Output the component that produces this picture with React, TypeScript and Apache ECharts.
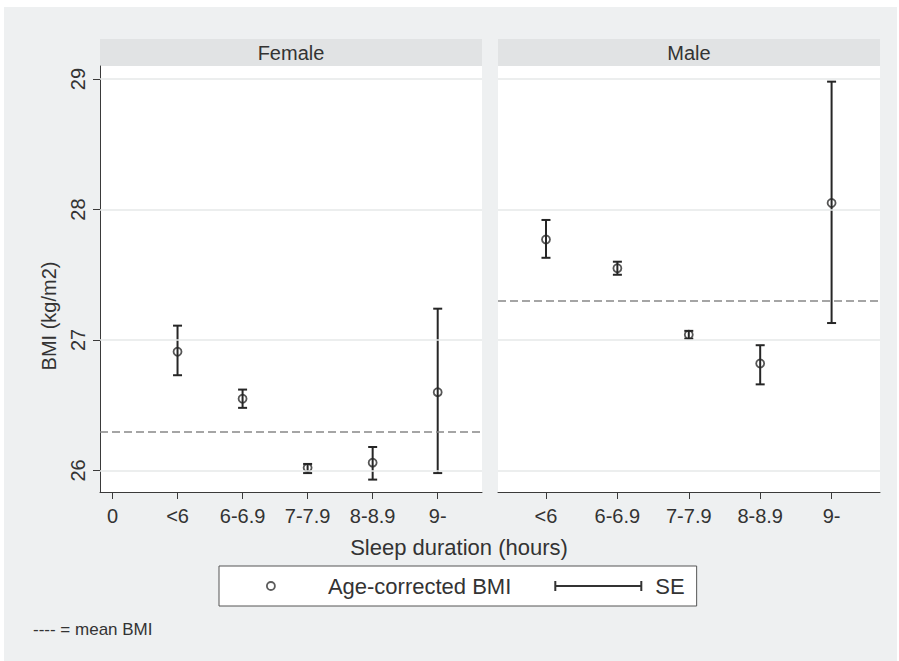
import React, { useEffect, useRef } from "react";
import * as echarts from "echarts";

// ---- data ----
const panels = ["Female", "Male"];
const femaleTickValues = [0, 1, 2, 3, 4, 5];
const femaleTickLabels = ["0", "<6", "6-6.9", "7-7.9", "8-8.9", "9-"];
const maleTickValues = [1, 2, 3, 4, 5];
const maleTickLabels = ["<6", "6-6.9", "7-7.9", "8-8.9", "9-"];
const femaleX = [1, 2, 3, 4, 5];
const maleX = [1, 2, 3, 4, 5];
const femaleBMI = [26.91, 26.55, 26.02, 26.06, 26.6];
const femaleSELow = [26.73, 26.48, 25.98, 25.93, 25.98];
const femaleSEHigh = [27.11, 26.62, 26.05, 26.18, 27.24];
const maleBMI = [27.77, 27.55, 27.04, 26.82, 28.05];
const maleSELow = [27.63, 27.5, 27.01, 26.66, 27.13];
const maleSEHigh = [27.92, 27.6, 27.07, 26.96, 28.98];
const meanBMI = [26.3, 27.3];
const yTicks = [26, 27, 28, 29];

const FONT = "'Liberation Sans', Arial, Helvetica, sans-serif";
const TEXT = "#333";
const AXIS = "#3a3a3a";

const circleIcon =
  "path://M0 0 M86 14 M47 7 A4 4 0 1 1 39 7 A4 4 0 1 1 47 7 Z";
const seIcon = "path://M0 5 L86 5 M0 0 L0 10 M86 0 L86 10";

function renderErrorBar(params: any, api: any) {
  const x = api.value(0);
  const lo = api.coord([x, api.value(1)]);
  const hi = api.coord([x, api.value(2)]);
  const hw = 4.5;
  const style = { stroke: "#262626", lineWidth: 2, fill: null };
  return {
    type: "group",
    children: [
      { type: "line", shape: { x1: lo[0], y1: lo[1], x2: hi[0], y2: hi[1] }, style },
      { type: "line", shape: { x1: lo[0] - hw, y1: lo[1], x2: lo[0] + hw, y2: lo[1] }, style },
      { type: "line", shape: { x1: hi[0] - hw, y1: hi[1], x2: hi[0] + hw, y2: hi[1] }, style },
    ],
  };
}

function refLines(mean: number) {
  return {
    silent: true,
    symbol: ["none", "none"],
    label: { show: false },
    emphasis: { disabled: true },
    data: [
      ...yTicks.map((v) => ({ yAxis: v, lineStyle: { color: "#e6e8e9", width: 1.5, type: "solid" } })),
      { yAxis: mean, lineStyle: { color: "#888", width: 1.5, type: [8, 4] } },
    ],
  };
}

export default function App() {
  const ref = useRef<HTMLDivElement>(null);
  useEffect(() => {
    if (!ref.current) return;
    const chart = echarts.init(ref.current, null, { renderer: "svg" });
    const yMin = 25.835;
    const yMax = 29.1;
    const gridCommon = { top: 66, width: 382, height: 426, show: true, backgroundColor: "#fff", borderWidth: 0 };
    const xAxisCommon = {
      type: "value",
      axisLine: { show: true, onZero: false, lineStyle: { color: AXIS, width: 1 } },
      axisTick: { show: true, length: 7, lineStyle: { color: AXIS, width: 1 } },
      splitLine: { show: false },
    };
    const pointStyle = { color: "rgba(0,0,0,0)", borderColor: "#2b2b2b", borderWidth: 1.8 };
    chart.setOption({
      animation: false,
      backgroundColor: "#eef0f1",
      textStyle: { fontFamily: FONT },
      grid: [
        { ...gridCommon, left: 100 },
        { ...gridCommon, left: 498 },
      ],
      xAxis: [
        {
          ...xAxisCommon,
          gridIndex: 0,
          min: -0.192,
          max: 5.681,
          axisTick: { ...xAxisCommon.axisTick, customValues: femaleTickValues },
          axisLabel: {
            customValues: femaleTickValues,
            formatter: (v: number) => femaleTickLabels[femaleTickValues.indexOf(Math.round(v))] ?? "",
            fontSize: 20,
            color: TEXT,
            margin: 14,
          },
        },
        {
          ...xAxisCommon,
          gridIndex: 1,
          min: 0.328,
          max: 5.678,
          axisTick: { ...xAxisCommon.axisTick, customValues: maleTickValues },
          axisLabel: {
            customValues: maleTickValues,
            formatter: (v: number) => maleTickLabels[maleTickValues.indexOf(Math.round(v))] ?? "",
            fontSize: 20,
            color: TEXT,
            margin: 14,
          },
        },
      ],
      yAxis: [
        {
          type: "value",
          gridIndex: 0,
          min: yMin,
          max: yMax,
          axisLine: { show: true, onZero: false, lineStyle: { color: AXIS, width: 1 } },
          axisTick: { show: true, length: 7, customValues: yTicks, lineStyle: { color: AXIS, width: 1 } },
          axisLabel: { customValues: yTicks, rotate: 90, fontSize: 20, color: TEXT, margin: 12 },
          splitLine: { show: false },
        },
        {
          type: "value",
          gridIndex: 1,
          min: yMin,
          max: yMax,
          axisLine: { show: false },
          axisTick: { show: false },
          axisLabel: { show: false },
          splitLine: { show: false },
        },
      ],
      legend: {
        left: 219,
        top: 566,
        orient: "horizontal",
        selectedMode: false,
        backgroundColor: "#fff",
        borderColor: "#555",
        borderWidth: 1,
        borderRadius: 0,
        padding: [9, 12, 9, 8],
        itemWidth: 86,
        itemHeight: 14,
        itemGap: 43,
        textStyle: { fontSize: 22, color: TEXT, fontFamily: FONT, padding: [0, 0, 0, 9] },
        data: [
          {
            name: "Age-corrected BMI",
            icon: circleIcon,
            itemStyle: { color: "rgba(0,0,0,0)", borderColor: "#333", borderWidth: 1.8 },
          },
          {
            name: "SE",
            icon: seIcon,
            itemStyle: { color: "rgba(0,0,0,0)", borderColor: "#333", borderWidth: 2 },
          },
        ],
      },
      series: [
        {
          name: "Age-corrected BMI",
          type: "scatter",
          xAxisIndex: 0,
          yAxisIndex: 0,
          symbol: "circle",
          symbolSize: 8,
          itemStyle: pointStyle,
          data: femaleX.map((x, i) => [x, femaleBMI[i]]),
          markLine: refLines(meanBMI[0]),
          z: 3,
        },
        {
          name: "SE",
          type: "custom",
          xAxisIndex: 0,
          yAxisIndex: 0,
          renderItem: renderErrorBar,
          encode: { x: 0, y: [1, 2] },
          data: femaleX.map((x, i) => [x, femaleSELow[i], femaleSEHigh[i]]),
          z: 4,
        },
        {
          name: "Age-corrected BMI",
          type: "scatter",
          xAxisIndex: 1,
          yAxisIndex: 1,
          symbol: "circle",
          symbolSize: 8,
          itemStyle: pointStyle,
          data: maleX.map((x, i) => [x, maleBMI[i]]),
          markLine: refLines(meanBMI[1]),
          z: 3,
        },
        {
          name: "SE",
          type: "custom",
          xAxisIndex: 1,
          yAxisIndex: 1,
          renderItem: renderErrorBar,
          encode: { x: 0, y: [1, 2] },
          data: maleX.map((x, i) => [x, maleSELow[i], maleSEHigh[i]]),
          z: 4,
        },
      ],
      graphic: {
        elements: [
          { type: "rect", shape: { x: 0, y: 0, width: 899, height: 7 }, style: { fill: "#fff" }, silent: true },
          { type: "rect", shape: { x: 0, y: 0, width: 4, height: 661 }, style: { fill: "#fff" }, silent: true },
          { type: "rect", shape: { x: 897, y: 0, width: 2, height: 661 }, style: { fill: "#fff" }, silent: true },
          { type: "rect", shape: { x: 100, y: 39, width: 382, height: 27 }, style: { fill: "#e1e3e4" }, silent: true },
          { type: "rect", shape: { x: 498, y: 39, width: 382, height: 27 }, style: { fill: "#e1e3e4" }, silent: true },
          {
            type: "text",
            x: 291,
            y: 53,
            style: { text: panels[0], fontSize: 20, fontFamily: FONT, fill: TEXT, textAlign: "center", textVerticalAlign: "middle" },
          },
          {
            type: "text",
            x: 689,
            y: 53,
            style: { text: panels[1], fontSize: 20, fontFamily: FONT, fill: TEXT, textAlign: "center", textVerticalAlign: "middle" },
          },
          {
            type: "text",
            x: 49,
            y: 316,
            rotation: Math.PI / 2,
            style: { text: "BMI (kg/m2)", fontSize: 20, fontFamily: FONT, fill: TEXT, textAlign: "center", textVerticalAlign: "middle" },
          },
          {
            type: "text",
            x: 459,
            y: 547,
            style: { text: "Sleep duration (hours)", fontSize: 22, fontFamily: FONT, fill: TEXT, textAlign: "center", textVerticalAlign: "middle" },
          },
          {
            type: "text",
            x: 33,
            y: 629,
            style: { text: "---- = mean BMI", fontSize: 17, fontFamily: FONT, fill: TEXT, textAlign: "left", textVerticalAlign: "middle" },
          },
        ],
      },
    });
    return () => chart.dispose();
  }, []);
  return <div ref={ref} style={{ position: "absolute", left: 0, top: 0, width: 899, height: 661 }} />;
}
